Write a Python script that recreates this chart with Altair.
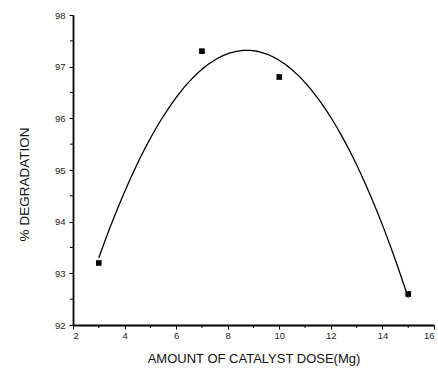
import altair as alt
import pandas as pd

dose = [3, 7, 10, 15]
degradation = [93.2, 97.3, 96.8, 92.6]
x_major = [2, 4, 6, 8, 10, 12, 14, 16]
y_major = [92, 93, 94, 95, 96, 97, 98]
x_minor = [3, 5, 7, 9, 11, 13, 15]
y_minor = [92.5, 93.5, 94.5, 95.5, 96.5, 97.5]

df = pd.DataFrame({"dose": dose, "deg": degradation})
xm = pd.DataFrame({"v": x_minor})
ym = pd.DataFrame({"v": y_minor})

FONT = "Liberation Sans"
xscale = alt.Scale(domain=[2, 16], nice=False, zero=False)
yscale = alt.Scale(domain=[92, 98], nice=False, zero=False)

xaxis = alt.Axis(values=x_major, title="AMOUNT OF CATALYST DOSE(Mg)", grid=False,
                 tickSize=4, tickColor="black", domainColor="black", domainWidth=1.8,
                 labelFont=FONT, labelFontSize=9.5, labelColor="#222", labelPadding=1,
                 titleFont=FONT, titleFontSize=13, titleFontWeight="normal",
                 titleColor="#111", titlePadding=13)
yaxis = alt.Axis(values=y_major, title="% DEGRADATION", grid=False,
                 tickSize=4, tickColor="black", domainColor="black", domainWidth=1.8,
                 labelFont=FONT, labelFontSize=9.5, labelColor="#222", labelPadding=4,
                 titleFont=FONT, titleFontSize=13.5, titleFontWeight="normal",
                 titleColor="#111", titlePadding=23, titleY=169)

base = alt.Chart(df)

points = base.mark_point(shape="square", filled=True, size=32, color="black", opacity=1, clip=False).encode(
    x=alt.X("dose:Q", scale=xscale, axis=xaxis),
    y=alt.Y("deg:Q", scale=yscale, axis=yaxis),
)

curve = base.transform_regression("dose", "deg", method="poly", order=2, extent=[3, 15]).mark_line(
    color="black", strokeWidth=1.3, interpolate="monotone"
).encode(x=alt.X("dose:Q", scale=xscale), y=alt.Y("deg:Q", scale=yscale))

xminor = alt.Chart(xm).mark_rule(color="black", strokeWidth=1, clip=False).encode(
    x=alt.X("v:Q", scale=xscale),
    y=alt.value(310), y2=alt.value(313),
)
yminor = alt.Chart(ym).mark_rule(color="black", strokeWidth=1, clip=False).encode(
    y=alt.Y("v:Q", scale=yscale),
    x=alt.value(-3), x2=alt.value(0),
)

chart = alt.layer(curve, points, xminor, yminor).properties(
    width=361, height=310,
    autosize=alt.AutoSizeParams(type="none"),
    padding={"left": 73, "top": 15, "right": 4, "bottom": 44},
    background="white",
).configure_view(stroke=None)

chart.save("out.html", embed_options={"renderer": "svg", "actions": False})
